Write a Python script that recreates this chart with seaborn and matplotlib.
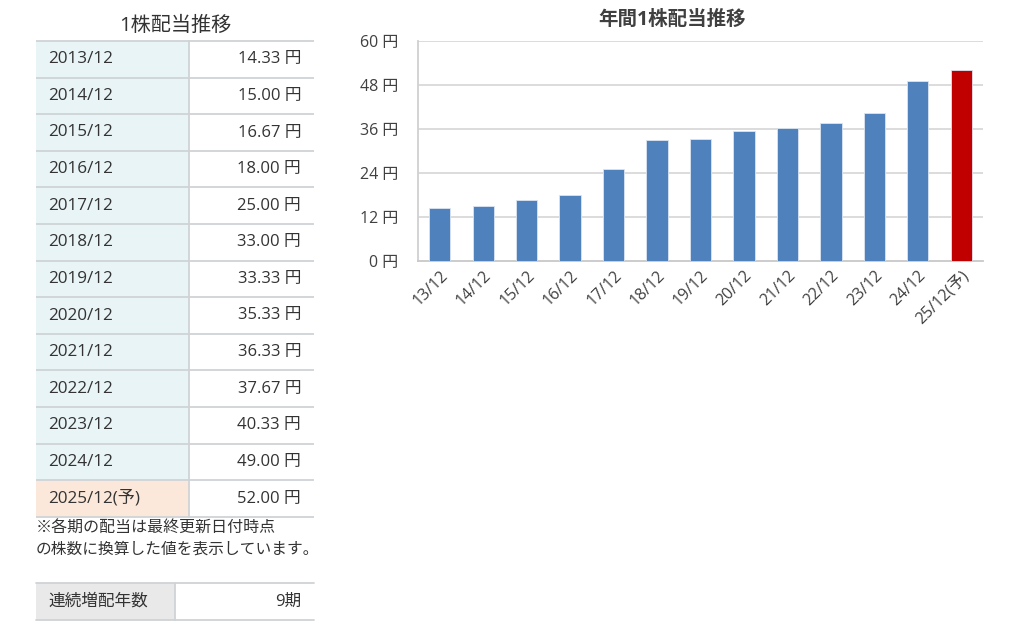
import matplotlib
matplotlib.use("Agg")
import matplotlib.pyplot as plt
from matplotlib.patches import Rectangle
import seaborn as sns
import pandas as pd

periods = ["2013/12", "2014/12", "2015/12", "2016/12", "2017/12", "2018/12", "2019/12",
           "2020/12", "2021/12", "2022/12", "2023/12", "2024/12", "2025/12(予)"]
short_labels = ["13/12", "14/12", "15/12", "16/12", "17/12", "18/12", "19/12",
                "20/12", "21/12", "22/12", "23/12", "24/12", "25/12(予)"]
dividends = [14.33, 15.00, 16.67, 18.00, 25.00, 33.00, 33.33, 35.33, 36.33, 37.67, 40.33, 49.00, 52.00]
y_ticks = [0, 12, 24, 36, 48, 60]
table_title = "1株配当推移"
chart_title = "年間1株配当推移"
note_lines = ["※各期の配当は最終更新日付時点", "の株数に換算した値を表示しています。"]
streak_label = "連続増配年数"
streak_value = "9期"

sns.set_theme(style="white")
plt.rcParams["font.family"] = ["Open Sans", "Noto Sans CJK JP", "DejaVu Sans"]

W, H = 1024, 629
fig = plt.figure(figsize=(W / 100, H / 100), dpi=100)
fig.patch.set_facecolor("white")

# ---------- left table (pixel coordinate canvas) ----------
tab = fig.add_axes([0, 0, 1, 1])
tab.set_xlim(0, W)
tab.set_ylim(H, 0)
tab.axis("off")

txt = "#333333"
line_c = "#cfd3d6"
x0, xm, x1 = 36, 189, 314
top, rh = 41, 36.6
tab.text((x0 + x1) / 2, 26, table_title, ha="center", va="center", fontsize=14.5, color=txt)
for i, (p, v) in enumerate(zip(periods, dividends)):
    yt = top + i * rh
    fc = "#fce8da" if "予" in p else "#e8f4f6"
    tab.add_patch(Rectangle((x0, yt), xm - x0, rh, facecolor=fc, edgecolor="none"))
    tab.text(x0 + 12, yt + rh / 2, p, ha="left", va="center", fontsize=12.3, color=txt)
    tab.text(x1 - 13, yt + rh / 2, f"{v:.2f} 円", ha="right", va="center", fontsize=12, color=txt)
n = len(periods)
for i in range(n + 1):
    yl = top + i * rh
    tab.plot([x0, x1], [yl, yl], color=line_c, lw=1.3, solid_capstyle="butt")
tab.plot([xm, xm], [top, top + n * rh], color=line_c, lw=1.3)

tab.text(x0, 528, note_lines[0], ha="left", va="center", fontsize=11.5, color=txt)
tab.text(x0, 550, note_lines[1], ha="left", va="center", fontsize=11.3, color=txt)

bt, bb, bm = 583, 620, 175
tab.add_patch(Rectangle((x0, bt), bm - x0, bb - bt, facecolor="#e9e9e9", edgecolor="none"))
tab.plot([x0, x1], [bt, bt], color=line_c, lw=1.3)
tab.plot([x0, x1], [bb, bb], color=line_c, lw=1.3)
tab.plot([bm, bm], [bt, bb], color=line_c, lw=1.3)
tab.text(x0 + 12, (bt + bb) / 2, streak_label, ha="left", va="center", fontsize=12, color=txt)
tab.text(x1 - 13, (bt + bb) / 2, streak_value, ha="right", va="center", fontsize=12, color=txt)

# ---------- bar chart ----------
L, R, T, B = 418, 983, 41, 261
ax = fig.add_axes([L / W, 1 - B / H, (R - L) / W, (B - T) / H])
df = pd.DataFrame({"period": short_labels, "dividend": dividends})
colors = ["#c00000" if "予" in s else "#4f81bd" for s in short_labels]
sns.barplot(data=df, x="period", y="dividend", hue="period", palette=colors, saturation=1,
            legend=False, width=0.49, ax=ax, edgecolor="#dbe5f1", linewidth=0.6, zorder=3)
ax.set_ylim(0, 60)
ax.set_xlim(-0.5, n - 0.5)
ax.set_yticks(y_ticks)
ax.set_yticklabels([f"{t} 円" for t in y_ticks])
ax.set_xlabel("")
ax.set_ylabel("")
ax.grid(False)
for t in y_ticks[1:]:
    ax.axhline(t, color="#d9d9d9", lw=1.3, zorder=1)
for s in ["top", "right"]:
    ax.spines[s].set_visible(False)
ax.spines["left"].set_color("#d0d0d0")
ax.spines["left"].set_linewidth(1.3)
ax.spines["bottom"].set_color("#c8c8c8")
ax.spines["bottom"].set_linewidth(1.3)
ax.tick_params(axis="y", length=0, pad=14, labelsize=11.5, labelcolor="#404040")
ax.tick_params(axis="x", length=0, pad=5, labelsize=11.5, labelcolor="#404040")
ax.set_xticks(range(n))
ax.set_xticks([i + 0.5 for i in range(n)], minor=True)
ax.tick_params(axis="x", which="minor", direction="in", length=7, width=1, color="#d0d0d0")
for lab in ax.get_xticklabels():
    lab.set_rotation(45)
    lab.set_ha("right")
    lab.set_va("top")
    lab.set_rotation_mode("anchor")
fig.text(672 / W, 1 - 20 / H, chart_title, ha="center", va="center", fontsize=14,
         fontweight="bold", color="#404040")

fig.savefig("out.png", dpi=100, facecolor="white")
